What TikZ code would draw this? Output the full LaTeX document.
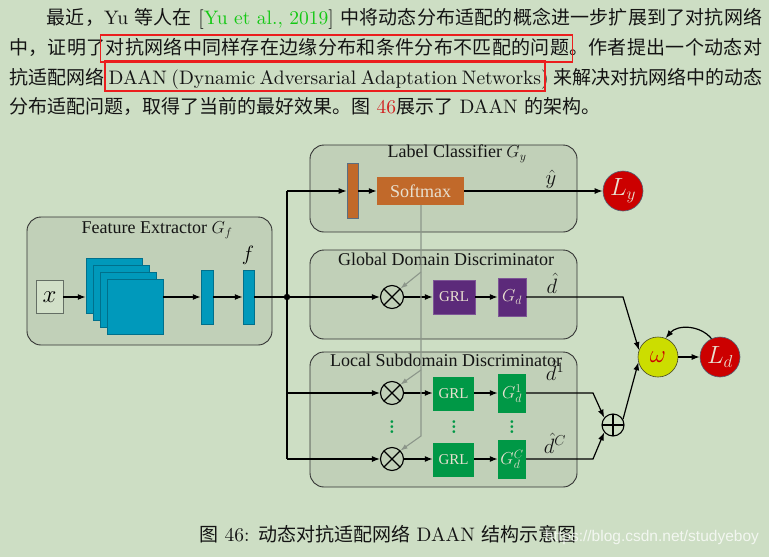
\documentclass[tikz,border=0pt]{standalone}
\usepackage{fontspec}
\usetikzlibrary{arrows.meta,calc}
\setmainfont{lmroman10-regular.otf}[ItalicFont=lmroman10-italic.otf, BoldFont=lmroman10-bold.otf, BoldItalicFont=lmroman10-bolditalic.otf]
\newfontfamily\cjkf[Scale=0.974]{Noto Sans CJK SC}
\newfontfamily\tms{Liberation Serif}
\newfontfamily\wmf{Liberation Sans}
\definecolor{bg}{RGB}{205,222,196}
\definecolor{panelc}{RGB}{193,208,184}
\definecolor{tealc}{RGB}{0,153,187}
\definecolor{tealb}{RGB}{0,112,140}
\definecolor{orangec}{RGB}{193,105,42}
\definecolor{purplec}{RGB}{92,42,122}
\definecolor{greenc}{RGB}{0,152,70}
\definecolor{redc}{RGB}{204,0,0}
\definecolor{yellowc}{RGB}{204,221,0}
\definecolor{boxtxt}{RGB}{232,224,208}
\definecolor{grayl}{RGB}{140,150,138}
\definecolor{lgreen}{RGB}{20,200,20}
\definecolor{refred}{RGB}{210,30,30}
\definecolor{boxred}{RGB}{235,30,30}
\definecolor{txt}{RGB}{20,20,20}
\def\cjend{CJEND}
\def\cjloop#1{\ifx\cjend#1\else#1\hfil\expandafter\cjloop\fi}
\newcommand\cjs[1]{{\cjkf\cjloop#1\cjend}}
\newcommand\gvd{\vbox{\baselineskip5pt\lineskiplimit0pt\hbox{.}\hbox{.}\hbox{.}}}
\begin{document}
\begin{tikzpicture}[x=1pt,y=-1pt,
  panel/.style={draw=black!80, line width=0.9pt, fill=panelc, rounded corners=14pt},
  ttl/.style={inner sep=0, text=txt, font=\tms\fontsize{18}{18}\selectfont},
  arr/.style={line width=1.2pt, -{Latex[length=8pt,width=6pt]}},
  ln/.style={line width=1.2pt},
  garr/.style={line width=1.1pt, draw=grayl, -{Latex[length=7pt,width=5pt]}},
  fmap/.style={draw=tealb, line width=0.5pt, fill=tealc, minimum width=56pt, minimum height=55pt, inner sep=0},
  bar/.style={draw=tealb, line width=0.5pt, fill=tealc, minimum width=12pt, minimum height=54pt, inner sep=0},
  obarst/.style={draw={rgb,255:red,90;green,110;blue,130}, line width=0.6pt, fill=orangec, minimum width=11pt, minimum height=55pt, inner sep=0},
  pbox/.style={fill=purplec, draw=purplec!80!white, line width=0.4pt, inner sep=0, text=boxtxt},
  gbox/.style={fill=greenc, inner sep=0, text=boxtxt},
  otimesst/.style={circle, draw=black, line width=1.1pt, minimum size=23pt, inner sep=0,
     path picture={\draw[line width=1.1pt] (path picture bounding box.north west)--(path picture bounding box.south east)
       (path picture bounding box.south west)--(path picture bounding box.north east);}},
  oplusst/.style={circle, draw=black, line width=1.1pt, minimum size=22pt, inner sep=0,
     path picture={\draw[line width=1.1pt] (path picture bounding box.north)--(path picture bounding box.south)
       (path picture bounding box.west)--(path picture bounding box.east);}},
  lossc/.style={circle, fill=redc, draw={rgb,255:red,80;green,100;blue,120}, line width=0.6pt, minimum size=40pt, inner sep=0, text=boxtxt, font=\fontsize{24}{24}\selectfont},
  mlab/.style={inner sep=0, anchor=base, text=txt, font=\fontsize{20}{20}\selectfont},
  gdots/.style={inner sep=0, text=greenc, font=\bfseries\fontsize{18}{18}\selectfont},
  redbox/.style={draw=boxred, line width=1.6pt},
  ptext/.style={anchor=base west, inner sep=0, text=txt, font=\fontsize{19.5}{19.5}\selectfont}
]
\fill[bg] (0,0) rectangle (769,557);
\useasboundingbox (0,0) rectangle (769,557);

% ---------- paragraph ----------
\node[ptext] (p1) at (46.5,24) {\hbox to 715.5pt{\cjs{最近，}Yu \cjs{等人在}\unskip\ [\textcolor{lgreen}{Yu et al., 2019}] \cjs{中将动态分布适配的概念进一步扩展到了对抗网络}\unskip}};
\node[ptext] (p2) at (9,54) {\hbox to 753pt{\cjs{中，证明了对抗网络中同样存在边缘分布和条件分布不匹配的问题。作者提出一个动态对}\unskip}};
\node[ptext] (p3) at (9,84) {\hbox to 753pt{\cjs{抗适配网络}\unskip\ DAAN (Dynamic Adversarial Adaptation Networks)\ \cjs{来解决对抗网络中的动态}\unskip}};
\node[ptext] (p4) at (9,113.5) {{\cjkf 分布适配问题，取得了当前的最好效果。图} \textcolor{refred}{46}{\cjkf 展示了} DAAN {\cjkf 的架构。}};
\draw[redbox] (100.5,35) rectangle (572.5,62);
\draw[redbox] (105,61) rectangle (545,91);

% ---------- panels ----------
\draw[panel] (27,217) rectangle (272,345);
\draw[panel] (310,145) rectangle (577,232);
\draw[panel] (310,250) rectangle (577,339);
\draw[panel] (310,352) rectangle (577,487);
\node[ttl] (tFE) at (157,230) {Feature Extractor $G_f$};
\node[ttl] (tLC) at (457,154) {Label Classifier $G_y$};
\node[ttl] (tGD) at (446,259) {Global Domain Discriminator};
\node[ttl] (tLS) at (446,360) {Local Subdomain Discriminator};

% ---------- feature extractor ----------
\node[draw={rgb,255:red,100;green,110;blue,100}, line width=0.7pt, fill={rgb,255:red,210;green,224;blue,200}, minimum width=27pt, minimum height=33pt, inner sep=0, font=\fontsize{24}{24}\selectfont] (x) at (49.5,297) {$x$};
\node[fmap] (sq1) at (114,285.5) {};
\node[fmap] (sq2) at (121,292.5) {};
\node[fmap] (sq3) at (128,299.5) {};
\node[fmap] (sq4) at (135,306.5) {};
\node[bar] (bar1) at (207,297) {};
\node[bar, minimum width=11pt] (bar2) at (248.5,297) {};
\node[inner sep=0, font=\fontsize{22}{22}\selectfont] (flab) at (248,255) {$f$};
\draw[arr] (x.east) -- (x.east -| sq1.west);
\draw[arr] (bar1.west -| sq4.east) -- (bar1.west);
\draw[arr] (bar1.east) -- (bar2.west);
\coordinate (J) at (287,297);
\coordinate (Jt) at (287,191);
\coordinate (Jb) at (287,459);
\draw[ln] (bar2.east) -- (J);
\draw[ln] (Jt) -- (Jb);
\fill (J) circle (3.2pt);

% ---------- label classifier ----------
\node[obarst] (obar) at (352.5,191) {};
\node[fill=orangec, minimum width=87pt, minimum height=28pt, inner sep=0, text=boxtxt, font=\tms\fontsize{18}{18}\selectfont] (smax) at (420.5,191) {Softmax};
\node[lossc] (Ly) at (623,191) {$L_y$};
\node[mlab] (yhat) at (551,184) {$\hat{y}$};
\draw[arr] (Jt) -- (obar.west);
\draw[arr] (obar.east) -- (smax.west);
\draw[arr] (smax.east) -- (Ly.west);

% ---------- global domain discriminator ----------
\node[otimesst] (otG) at (392,297) {};
\node[pbox, minimum width=42pt, minimum height=34pt, font=\tms\fontsize{15}{15}\selectfont] (grlG) at (454,297) {GRL};
\node[pbox, minimum width=28pt, minimum height=38pt, font=\fontsize{17.5}{17.5}\selectfont] (GdG) at (512,297) {$G_d$};
\node[mlab] (dhat) at (552,293) {$\hat{d}$};
\draw[arr] (J) -- (otG.west);
\draw[arr] (otG.east) -- (grlG.west);
\draw[arr] (grlG.east) -- (GdG.west);

% ---------- local subdomain discriminator ----------
\node[otimesst] (otL1) at (392,393) {};
\node[otimesst] (otL2) at (392,459) {};
\node[gbox, minimum width=41pt, minimum height=34pt, font=\tms\fontsize{15}{15}\selectfont] (grl1) at (453.5,393.5) {GRL};
\node[gbox, minimum width=41pt, minimum height=34pt, font=\tms\fontsize{15}{15}\selectfont] (grl2) at (453.5,459.5) {GRL};
\node[gbox, minimum width=28pt, minimum height=39pt, font=\fontsize{17.5}{17.5}\selectfont] (Gd1) at (512,393.5) {$G_d^1$};
\node[gbox, minimum width=28pt, minimum height=39pt, font=\fontsize{17.5}{17.5}\selectfont] (GdC) at (512,459.5) {$G_d^C$};
\node[gdots] (v1) at (392,427) {\gvd};
\node[gdots] (v2) at (454,427) {\gvd};
\node[gdots] (v3) at (512,427) {\gvd};
\node[mlab] (d1hat) at (555,380) {$\hat{d}^1$};
\node[mlab] (dChat) at (555,453) {$\hat{d}^C$};
\draw[arr] (otL1 -| Jt) -- (otL1.west);
\draw[arr] (otL2 -| Jt) -- (otL2.west);
\draw[arr] (otL1.east) -- (grl1.west |- otL1);
\draw[arr] (otL2.east) -- (grl2.west |- otL2);
\draw[arr] (grl1.east |- otL1) -- (Gd1.west |- otL1);
\draw[arr] (grl2.east |- otL2) -- (GdC.west |- otL2);

% ---------- gray softmax guidance ----------
\coordinate (g1) at (421,272);
\coordinate (g2) at (421,370);
\coordinate (g3) at (421,436);
\draw[garr] (g1 |- smax.south) -- (g3) -- (otL2.45);
\draw[garr] (g1) -- (otG.45);
\draw[garr] (g2) -- (otL1.45);

% ---------- right side ----------
\node[oplusst] (op) at (613,425) {};
\node[circle, fill=yellowc, draw={rgb,255:red,70;green,70;blue,40}, line width=0.6pt, minimum size=40pt, inner sep=0, text=redc, font=\fontsize{30}{30}\selectfont] (om) at (658,357) {$\omega$};
\node[lossc] (Ld) at (720,357) {$L_d$};
\coordinate (bG) at (623,297);
\coordinate (b1) at (593,393);
\coordinate (b2) at (593,459);
\draw[arr] (GdG.east) -- (bG) -- (om.160);
\draw[arr] (Gd1.east |- otL1) -- (b1) -- (op.140);
\draw[arr] (GdC.east |- otL2) -- (b2) -- (op.220);
\draw[arr] (op.30) -- (om.195);
\draw[arr] (om.east) -- (Ld.west);
\draw[arr] (Ld.115) to[bend right=50] (om.68);

% ---------- caption ----------
\node[ptext] (cap) at (199,541.5) {{\cjkf 图} 46: {\cjkf 动态对抗适配网络} DAAN {\cjkf 结构示意图}};
\node[anchor=base west, inner sep=0, text=white, text opacity=0.75] (wm) at (545,541) {\wmf\fontsize{15.5}{15.5}\selectfont https://blog.csdn.net/studyeboy};
\end{tikzpicture}
\end{document}
